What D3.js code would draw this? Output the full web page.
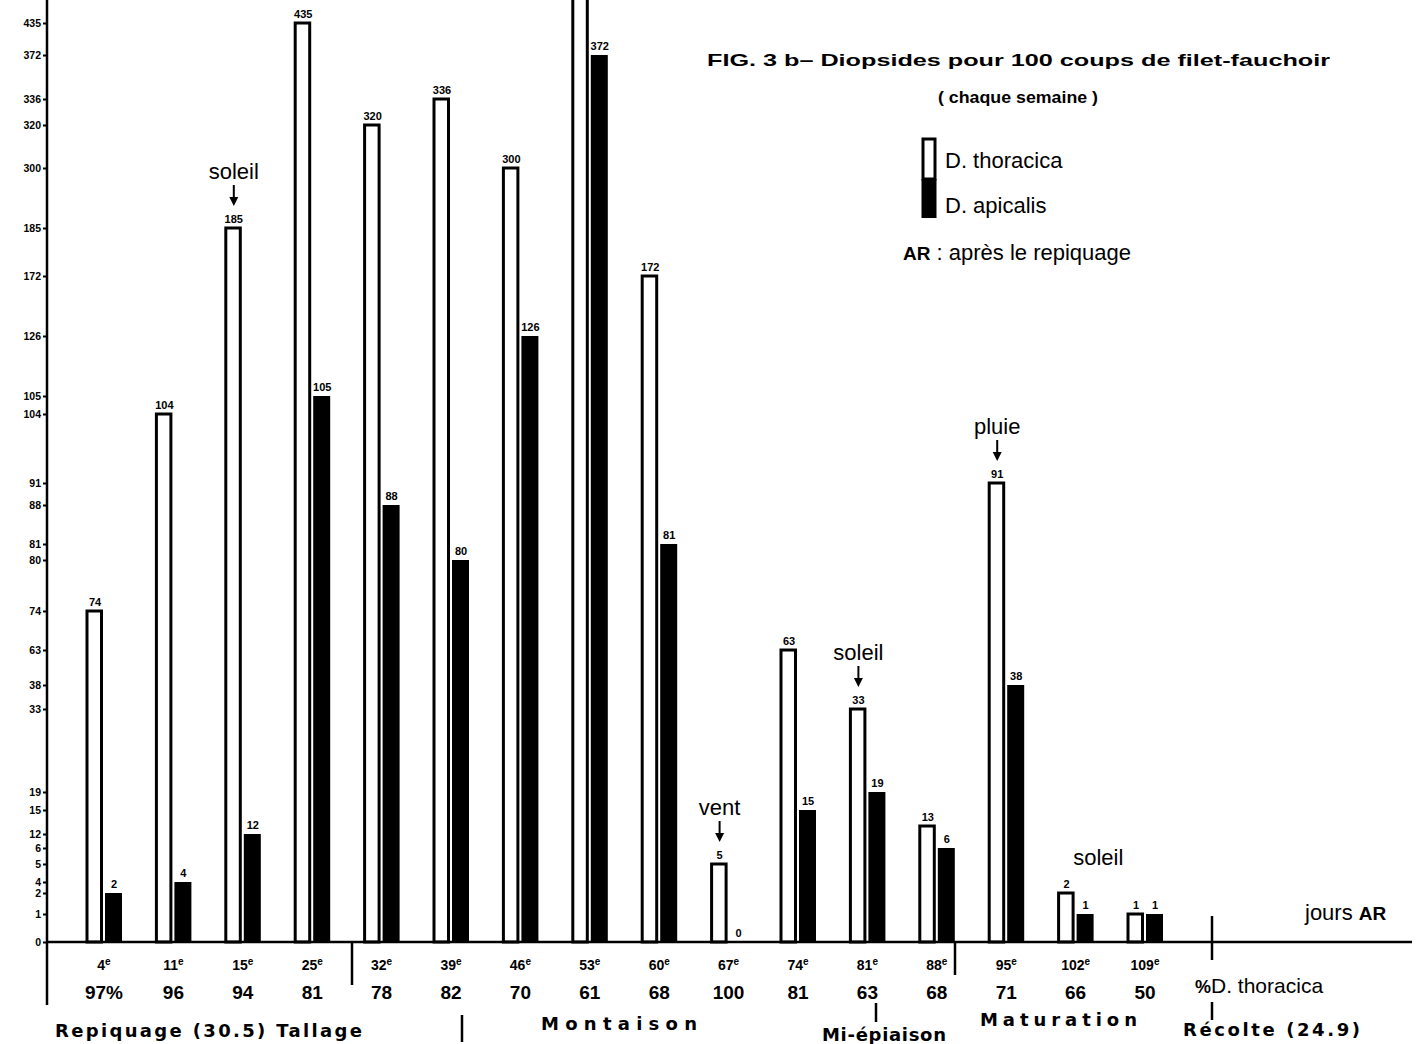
<!DOCTYPE html>
<html><head><meta charset="utf-8">
<script src="https://cdn.jsdelivr.net/npm/d3@7"></script>
<style>body{margin:0;background:#fff}svg{display:block}</style>
</head><body>
<svg id="c" width="1424" height="1044"></svg>
<script>
// ---- data ----
const days = ["4","11","15","25","32","39","46","53","60","67","74","81","88","95","102","109"];
const daySuffix = ["e","e","e","e","e","e","e","e","e","e","e","e","e","e","e","e"];
const thoracica = [74,104,185,435,320,336,300,582,172,5,63,33,13,91,2,1];
const apicalis  = [2,4,12,105,88,80,126,372,81,0,15,19,6,38,1,1];
const pctThoracica = ["97%","96","94","81","78","82","70","61","68","100","81","63","68","71","66","50"];
const yTickValues = [0,1,2,4,5,6,12,15,19,33,38,63,74,80,81,88,91,104,105,126,172,185,300,320,336,372,435];
const annotations = [
  {text:"soleil", day:"15", arrow:true},
  {text:"vent", day:"67", arrow:true},
  {text:"soleil", day:"81", arrow:true},
  {text:"pluie", day:"95", arrow:true},
  {text:"soleil", day:"102", to:"109", arrow:false}
];
const titleLines = ["FIG. 3 b– Diopsides  pour  100 coups de filet-fauchoir", "( chaque semaine )"];
const legendLabels = ["D. thoracica", "D. apicalis"];

// ---- layout (hand-drawn, uneven y axis) ----
const yTickPos = [942,914,893,882,864,848,834,810,792,709,685,650,611,560,544,505,483,414,396,336,276,228,168,125,99,55,23];

const svg = d3.select("#c");
const x = d3.scalePoint().domain(days).range([104, 1145]);
const y = d3.scaleLinear().domain(yTickValues).range(yTickPos);
const bw = 16;
const F = "'Liberation Sans', Arial, sans-serif";
const FB = "'DejaVu Sans', 'Liberation Sans', sans-serif";

svg.append("defs").append("clipPath").attr("id","clip")
  .append("rect").attr("x",0).attr("y",0).attr("width",1424).attr("height",1044);

const g = svg.append("g").attr("clip-path","url(#clip)");

// bars: D. thoracica (white, outlined)
g.selectAll("rect.th").data(days).join("rect").attr("class","th")
  .attr("x", d => x(d) - 17).attr("width", bw - 1.5)
  .attr("y", (d,i) => y(thoracica[i])).attr("height", (d,i) => y(0) - y(thoracica[i]))
  .attr("fill","#fff").attr("stroke","#000").attr("stroke-width",3);
// bars: D. apicalis (black)
g.selectAll("rect.ap").data(days).join("rect").attr("class","ap")
  .attr("x", d => x(d) + 1).attr("width", bw + 1)
  .attr("y", (d,i) => y(apicalis[i])).attr("height", (d,i) => Math.max(0, y(0) - y(apicalis[i])))
  .attr("fill","#000");

// value labels (only those inside the drawing area)
function vlabels(cls, vals, dx) {
  const idx = days.map((d,i) => i).filter(i => y(vals[i]) > 12);
  g.selectAll("text." + cls).data(idx).join("text").attr("class", cls)
    .attr("x", i => x(days[i]) + dx).attr("y", i => y(vals[i]) - 5)
    .attr("font-family",F).attr("font-weight","bold").attr("font-size","11px").attr("text-anchor","middle")
    .text(i => vals[i]);
}
vlabels("vt", thoracica, -9);
vlabels("va", apicalis, 10);

// y axis
const axisX = 47;
svg.append("line").attr("x1",axisX).attr("x2",axisX).attr("y1",0).attr("y2",1005)
  .attr("stroke","#000").attr("stroke-width",2.5);
const ax = svg.append("g").attr("transform",`translate(${axisX},0)`)
  .call(d3.axisLeft(y).tickValues(yTickValues).tickSize(4).tickPadding(2).tickFormat(d3.format("d")));
ax.select(".domain").remove();
ax.selectAll("line").attr("stroke","#000").attr("stroke-width",2);
ax.selectAll("text").attr("font-family",F).attr("font-weight","bold").attr("font-size","10.5px").attr("fill","#000");

// baseline
svg.append("line").attr("x1",axisX).attr("x2",1412).attr("y1",y(0)).attr("y2",y(0))
  .attr("stroke","#000").attr("stroke-width",2.5);

// day labels with superscript
const dl = svg.selectAll("text.day").data(days).join("text").attr("class","day")
  .attr("x", d => x(d)).attr("y", 970).attr("text-anchor","middle")
  .attr("font-family",F).attr("font-weight","bold").attr("font-size","14px");
dl.append("tspan").text(d => d);
dl.append("tspan").attr("dy",-5).attr("font-size","10px").text((d,i) => daySuffix[i]);

// % thoracica
svg.selectAll("text.pct").data(days).join("text").attr("class","pct")
  .attr("x", d => x(d)).attr("y", 999).attr("text-anchor","middle")
  .attr("font-family",F).attr("font-weight","bold").attr("font-size","19px")
  .text((d,i) => pctThoracica[i]);
const pl = svg.append("text").attr("x",1195).attr("y",993).attr("font-family",F).attr("font-size","21px");
pl.append("tspan").attr("font-weight","bold").attr("font-size","18px").text("%");
pl.append("tspan").text("D. thoracica");

// annotations
annotations.forEach(a => {
  const i = days.indexOf(a.day);
  let cx = x(a.day) - 9, top = y(thoracica[i]);
  if (a.to) { cx = (x(a.day) + x(a.to)) / 2 - 12; }
  svg.append("text").attr("x",cx).attr("y", a.arrow ? top - 49 : top - 28)
    .attr("text-anchor","middle").attr("font-family",F).attr("font-size","22px").text(a.text);
  if (a.arrow) {
    svg.append("line").attr("x1",cx).attr("x2",cx).attr("y1",top-43).attr("y2",top-30)
      .attr("stroke","#000").attr("stroke-width",2);
    svg.append("path").attr("d",`M${cx-4.5},${top-31} L${cx+4.5},${top-31} L${cx},${top-22} Z`).attr("fill","#000");
  }
});

// title and legend
svg.append("text").attr("x",707).attr("y",66).attr("font-family",F).attr("font-weight","bold")
  .attr("font-size","17px").attr("textLength",623).attr("lengthAdjust","spacingAndGlyphs").text(titleLines[0]);
svg.append("text").attr("x",1018).attr("y",103).attr("text-anchor","middle").attr("font-family",F).attr("font-weight","bold")
  .attr("font-size","17px").attr("textLength",160).attr("lengthAdjust","spacingAndGlyphs").text(titleLines[1]);
svg.append("rect").attr("x",923).attr("y",139).attr("width",12).attr("height",40).attr("fill","#fff").attr("stroke","#000").attr("stroke-width",3);
svg.append("rect").attr("x",921.5).attr("y",179).attr("width",15).attr("height",39).attr("fill","#000");
legendLabels.forEach((t,k) => svg.append("text").attr("x",945).attr("y",168 + k*45)
  .attr("font-family",F).attr("font-size","22px").text(t));
const ar = svg.append("text").attr("x",903).attr("y",260).attr("font-family",F).attr("font-size","22px");
ar.append("tspan").attr("font-weight","bold").attr("font-size","19px").text("AR");
ar.append("tspan").text(" : après le repiquage");
const jr = svg.append("text").attr("x",1305).attr("y",920).attr("font-family",F).attr("font-size","22px");
jr.append("tspan").text("jours ");
jr.append("tspan").attr("font-weight","bold").attr("font-size","19px").text("AR");

// phase labels and separators
const phases = [
  {t:"Repiquage (30.5) Tallage", x:55, y:1037, w:307},
  {t:"Montaison", x:541, y:1030, w:156},
  {t:"Mi-épiaison", x:822, y:1041, w:124},
  {t:"Maturation", x:980, y:1026, w:157},
  {t:"Récolte (24.9)", x:1183, y:1036, w:177}
];
phases.forEach(p => svg.append("text").attr("x",p.x).attr("y",p.y).attr("font-family",FB)
  .attr("font-weight","bold").attr("font-size","18px").attr("textLength",p.w).attr("lengthAdjust","spacing").text(p.t));
const seps = [[352,942,985],[462,1015,1042],[876,1003,1022],[955,942,975],[1212,916,960],[1212,1002,1020]];
seps.forEach(s => svg.append("line").attr("x1",s[0]).attr("x2",s[0]).attr("y1",s[1]).attr("y2",s[2])
  .attr("stroke","#000").attr("stroke-width",2.5));
</script>
</body></html>
